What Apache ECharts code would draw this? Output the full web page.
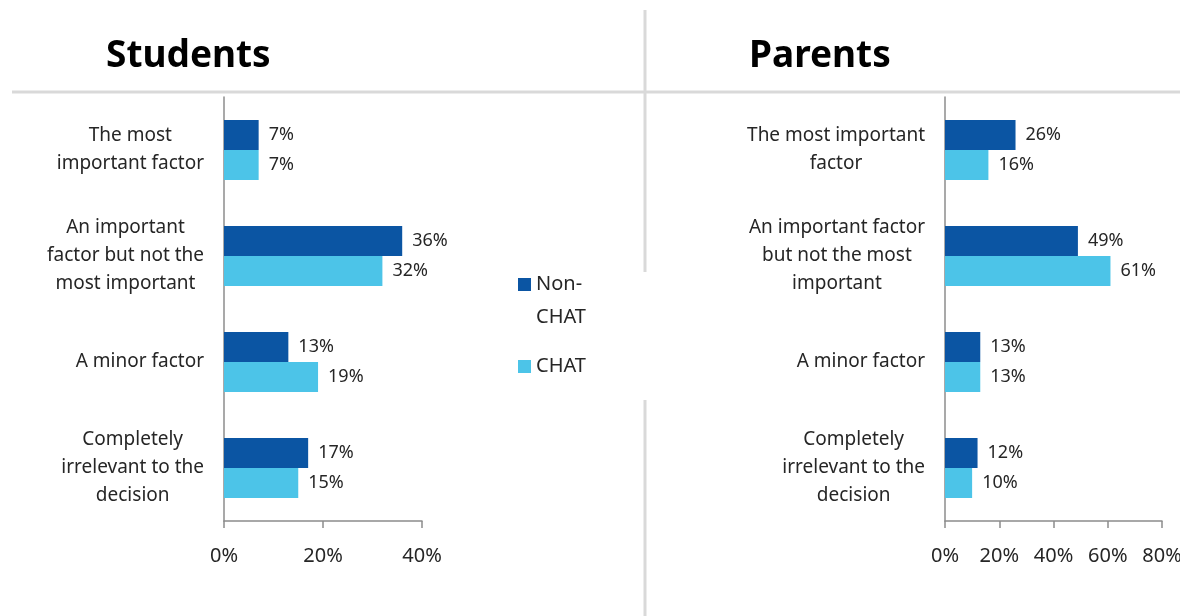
<!DOCTYPE html>
<html><head><meta charset="utf-8">
<script src="https://cdn.jsdelivr.net/npm/echarts@6/dist/echarts.min.js"></script>
<style>html,body{margin:0;padding:0;background:#fff}#c{width:1180px;height:616px}</style>
</head><body><div id="c"></div>
<script>
const studentCategories = ['The most\nimportant factor', 'An important\nfactor but not the\nmost important', 'A minor factor', 'Completely\nirrelevant to the\ndecision'];
const parentCategories = ['The most important\nfactor', 'An important factor\nbut not the most\nimportant', 'A minor factor', 'Completely\nirrelevant to the\ndecision'];
const seriesNames = ['Non-CHAT', 'CHAT'];
const studentsNonChat = [7, 36, 13, 17];
const studentsChat = [7, 32, 19, 15];
const parentsNonChat = [26, 49, 13, 12];
const parentsChat = [16, 61, 13, 10];
const studentAxisMax = 40;
const parentAxisMax = 80;
const tickStep = 20;
const panelTitles = ['Students', 'Parents'];

const FONT = 'Noto Sans';
const DARK = '#0b55a3';
const LIGHT = '#4cc4e8';
const TEXT = '#262626';
const AXIS = '#8c8c8c';

function catFormatter(v) {
  return v.split('\n').map(l => '{c|' + l + '}').join('\n');
}
function yAxis(idx, cats) {
  return {
    type: 'category', gridIndex: idx, data: cats, inverse: true,
    axisLine: {lineStyle: {color: AXIS, width: 1.5}},
    axisTick: {length: 8, lineStyle: {color: AXIS, width: 1.5}},
    axisLabel: {
      margin: 20, color: TEXT, fontFamily: FONT, fontSize: 19,
      formatter: catFormatter,
      rich: {c: {align: 'center', fontFamily: FONT, fontSize: 19, lineHeight: 28, color: TEXT}}
    }
  };
}
function xAxis(idx, max) {
  return {
    type: 'value', gridIndex: idx, min: 0, max: max, interval: tickStep,
    splitLine: {show: false},
    axisLine: {show: true, lineStyle: {color: AXIS, width: 1.5}},
    axisTick: {show: true, length: 7, lineStyle: {color: AXIS, width: 1.5}},
    axisLabel: {margin: 25, color: TEXT, fontFamily: FONT, fontSize: 20, formatter: '{value}%'}
  };
}
function barSeries(name, idx, data, color) {
  return {
    type: 'bar', name: name, xAxisIndex: idx, yAxisIndex: idx, data: data,
    barWidth: 30, barGap: '0%',
    itemStyle: {color: color},
    label: {show: true, position: 'right', distance: 10, formatter: '{c}%',
            color: TEXT, fontFamily: FONT, fontSize: 18}
  };
}

const chart = echarts.init(document.getElementById('c'));
chart.setOption({
  animation: false,
  backgroundColor: '#fff',
  title: [
    {text: panelTitles[0], left: 106, top: 38, padding: 0,
     textStyle: {fontFamily: FONT, fontSize: 37, fontWeight: 'bold', color: '#000'}},
    {text: panelTitles[1], left: 749, top: 38, padding: 0,
     textStyle: {fontFamily: FONT, fontSize: 37, fontWeight: 'bold', color: '#000'}}
  ],
  grid: [
    {left: 224, top: 97, width: 198, height: 424, containLabel: false, outerBoundsMode: 'none'},
    {left: 945, top: 97, width: 217, height: 424, containLabel: false, outerBoundsMode: 'none'}
  ],
  legend: [
    {data: [seriesNames[0]], left: 518, top: 235, padding: 0, itemWidth: 13, itemHeight: 13,
     icon: 'rect', formatter: n => '{p| }\n{a|Non-}\n{a|CHAT}',
     textStyle: {fontFamily: FONT, fontSize: 20, lineHeight: 33, color: TEXT,
       rich: {p: {fontSize: 20, lineHeight: 33}, a: {fontFamily: FONT, fontSize: 20, lineHeight: 33, color: TEXT}}}},
    {data: [seriesNames[1]], left: 518, top: 350, padding: 0, itemWidth: 13, itemHeight: 13,
     icon: 'rect',
     textStyle: {fontFamily: FONT, fontSize: 20, lineHeight: 33, color: TEXT}}
  ],
  xAxis: [xAxis(0, studentAxisMax), xAxis(1, parentAxisMax)],
  yAxis: [yAxis(0, studentCategories), yAxis(1, parentCategories)],
  series: [
    barSeries(seriesNames[0], 0, studentsNonChat, DARK),
    barSeries(seriesNames[1], 0, studentsChat, LIGHT),
    barSeries(seriesNames[0], 1, parentsNonChat, DARK),
    barSeries(seriesNames[1], 1, parentsChat, LIGHT)
  ],
  graphic: [
    {type: 'line', silent: true, shape: {x1: 12, y1: 92, x2: 1180, y2: 92}, style: {stroke: '#d9d9d9', lineWidth: 3}},
    {type: 'line', silent: true, shape: {x1: 645, y1: 10, x2: 645, y2: 272}, style: {stroke: '#d9d9d9', lineWidth: 3}},
    {type: 'line', silent: true, shape: {x1: 645, y1: 400, x2: 645, y2: 616}, style: {stroke: '#d9d9d9', lineWidth: 3}}
  ]
});
</script></body></html>
